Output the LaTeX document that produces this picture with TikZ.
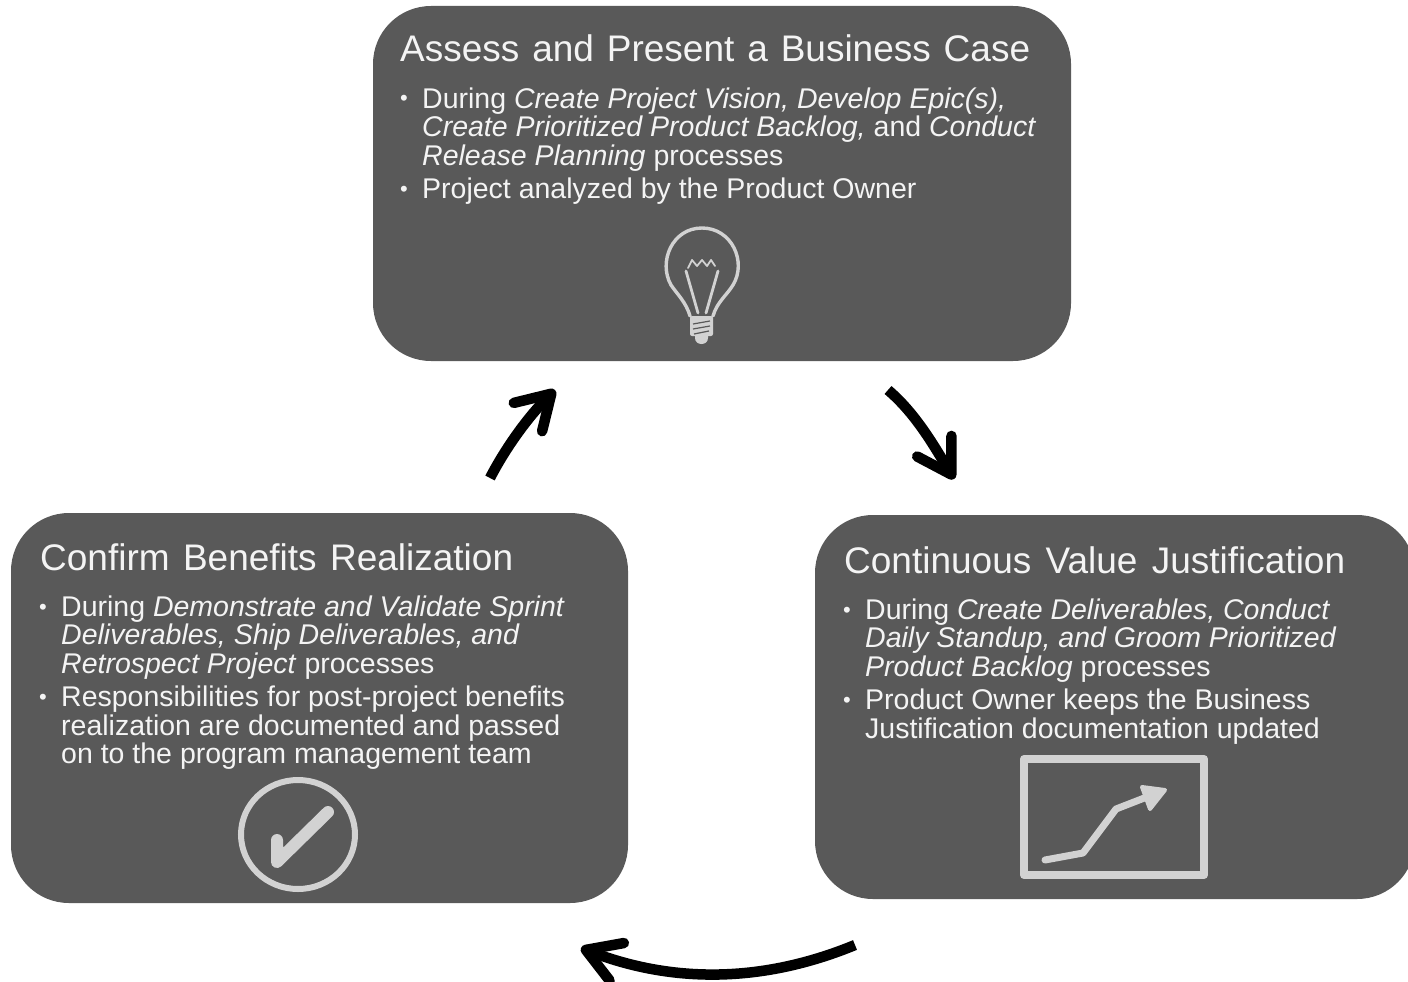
\documentclass[tikz,border=0pt]{standalone}
\usepackage{fontspec}
\setmainfont{Liberation Sans}
\usetikzlibrary{arrows.meta}
\definecolor{boxgrey}{HTML}{595959}
\definecolor{icongrey}{HTML}{D2D2D2}
\definecolor{txt}{HTML}{F4F4F4}
\tikzset{
  x=1pt,y=-1pt,
  panel/.style={fill=boxgrey,rounded corners=58pt,inner sep=0pt,outer sep=0pt},
  headline/.style={anchor=base west,inner sep=0pt,text=txt,font=\fontsize{37}{38}\selectfont},
  bodyline/.style={anchor=base west,inner sep=0pt,text=txt,font=\fontsize{28.5}{29}\selectfont},
  bulletmark/.style={anchor=base west,inner sep=0pt,text=txt,font=\fontsize{22}{24}\selectfont},
  iconline/.style={draw=icongrey,line cap=round,line join=round},
  flow/.style={line width=10.5pt,draw=black,-{Straight Barb[length=33pt,width=40pt,round]}},
}
\newcommand{\spreadto}[2]{\makebox[#1pt][s]{#2}}
\begin{document}
\begin{tikzpicture}
\useasboundingbox (0,0) rectangle (1408,982);
\fill[white] (0,0) rectangle (1408,982);
\node[panel,minimum width=698pt,minimum height=355pt] (top) at (722,183.5) {};
\node[panel,minimum width=617pt,minimum height=390pt] (left) at (319.5,708) {};
\node[panel,minimum width=600pt,minimum height=384pt] (right) at (1115,707) {};

% top text
\node[headline] (t0) at (400,62) {\spreadto{630}{Assess and Present a Business Case}};
\node[bulletmark] (tb1) at (400,106) {•};
\node[bodyline] (t1) at (422,108) {During \textit{Create Project Vision, Develop Epic(s),}};
\node[bodyline] (t2) at (422,136) {\textit{Create Prioritized Product Backlog,} and \textit{Conduct}};
\node[bodyline] (t3) at (422,165) {\textit{Release Planning} processes};
\node[bulletmark] (tb2) at (400,196) {•};
\node[bodyline] (t4) at (422,198) {Project analyzed by the Product Owner};

% left text
\node[headline] (l0) at (40,570) {\spreadto{473}{Confirm Benefits Realization}};
\node[bulletmark] (lb1) at (39,614) {•};
\node[bodyline] (l1) at (61,616) {During \textit{Demonstrate and Validate Sprint}};
\node[bodyline] (l2) at (61,644) {\textit{Deliverables, Ship Deliverables, and}};
\node[bodyline] (l3) at (61,673) {\textit{Retrospect Project} processes};
\node[bulletmark] (lb2) at (39,704) {•};
\node[bodyline] (l4) at (61,706) {Responsibilities for post-project benefits};
\node[bodyline] (l5) at (61,735) {realization are documented and passed};
\node[bodyline] (l6) at (61,763) {on to the program management team};

% right text
\node[headline] (r0) at (844,573) {\spreadto{501}{Continuous Value Justification}};
\node[bulletmark] (rb1) at (843,617) {•};
\node[bodyline] (r1) at (865,619) {During \textit{Create Deliverables, Conduct}};
\node[bodyline] (r2) at (865,647) {\textit{Daily Standup, and Groom Prioritized}};
\node[bodyline] (r3) at (865,676) {\textit{Product Backlog} processes};
\node[bulletmark] (rb2) at (843,707) {•};
\node[bodyline] (r4) at (865,709) {Product Owner keeps the Business};
\node[bodyline] (r5) at (865,738) {Justification documentation updated};

% bulb
\draw[iconline,line width=3.4pt] (690,316) .. controls (686,302) and (677,294) .. (671,285) .. controls (658,262) and (672,228) .. (702,228) .. controls (732,228) and (747,262) .. (733,285) .. controls (727,295) and (717,302) .. (713,316);
\draw[iconline,line width=2.8pt] (686,271) -- (698,313) (718,271) -- (706,313);
\draw[iconline,line width=1.8pt] (688,268) -- (692,260) -- (697,266) -- (702,260) -- (707,266) -- (711,260) -- (715,266);
\fill[icongrey,rounded corners=2pt] (690,316) rectangle (713,336);
\fill[icongrey] (695,334) -- (708,334) -- (708,338) .. controls (708,346) and (695,346) .. (695,338) -- cycle;
\draw[boxgrey,line width=1.2pt] (693,324) -- (710,321) (693,329) -- (710,326) (694,334) -- (709,331);

% chart
\draw[iconline,line width=8pt] (1024,759) rectangle (1204,875);
\draw[iconline,line width=7pt] (1045,860) -- (1083,853) -- (1116,809) -- (1152,795);
\fill[icongrey,draw=icongrey,line width=4pt,line join=round] (1165,790) -- (1142,787) -- (1150,809) -- cycle;

% check
\draw[icongrey,line width=6pt] (298,834.5) ellipse[x radius=57,y radius=54.5];
\draw[iconline,line width=12pt] (277,840) -- (277,862) -- (328,812);

% arrows
\coordinate (a1s) at (490,478);
\coordinate (a1e) at (555,390);
\coordinate (a2s) at (888,390);
\coordinate (a2e) at (954,479);
\coordinate (a3s) at (855,945);
\coordinate (a3e) at (581,948);
\draw[flow] (a1s) .. controls (505,449) and (527,418) .. (a1e);
\draw[flow] (a2s) .. controls (915,413) and (933,444) .. (a2e);
\draw[flow] (a3s) .. controls (770,980) and (680,986) .. (a3e);
\end{tikzpicture}
\end{document}
